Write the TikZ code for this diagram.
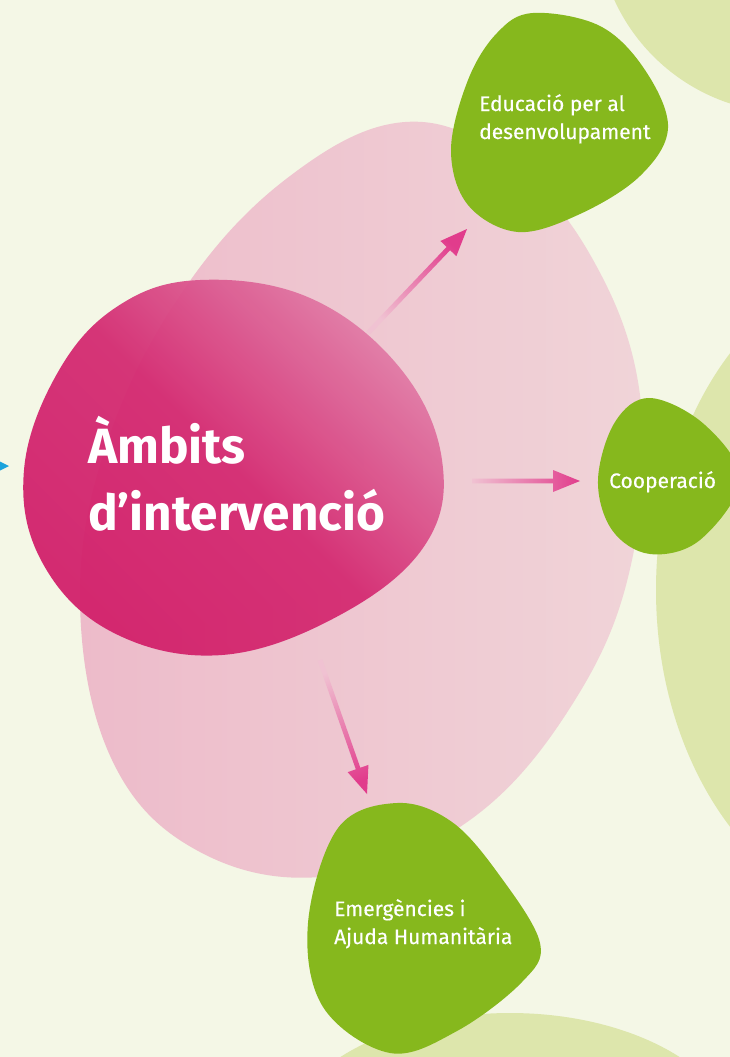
\documentclass[tikz,border=0pt]{standalone}
\usepackage{fontspec}
\setmainfont{Fira Sans}
\newfontfamily\labelfont{Fira Sans}[FakeBold=0.35]
\usetikzlibrary{calc}
\definecolor{bg}{HTML}{F4F7E6}
\definecolor{lightgreen}{HTML}{DDE6AC}
\definecolor{leaf}{HTML}{86B81D}
\definecolor{pinkL}{HTML}{EDBBCA}
\definecolor{pinkR}{HTML}{F0D4D8}
\definecolor{magDark}{HTML}{D2216B}
\definecolor{magMid}{HTML}{D42B72}
\definecolor{magLight}{HTML}{E27EA8}
\definecolor{arrowdark}{HTML}{E13C8C}
\definecolor{arrowlight}{HTML}{F0C2D2}
\definecolor{cyanarrow}{HTML}{1BA3DC}
\tikzset{
  greenblob/.style={fill=leaf},
  softgreen/.style={fill=lightgreen},
  greenlabel/.style={anchor=base west, inner sep=0pt, text=white, font=\labelfont\fontsize{21}{25}\selectfont},
  titlelabel/.style={anchor=base west, inner sep=0pt, text=white, font=\fontsize{49.5}{58}\selectfont\bfseries},
}
\newcommand{\gradarrow}[3]{%
  \coordinate (#1h) at ($(#2)!27pt!(#1)$);
  \path[top color=arrowlight, bottom color=arrowdark, shading angle=#3]
    ($(#1)!2.4pt!90:(#2)$) -- ($(#1h)!2.4pt!90:(#2)$) -- ($(#1h)!11pt!90:(#2)$) -- (#2)
    -- ($(#1h)!11pt!-90:(#2)$) -- ($(#1h)!2.4pt!-90:(#2)$) -- ($(#1)!2.4pt!-90:(#2)$) -- cycle;
}
\begin{document}
\begin{tikzpicture}[x=1pt,y=-1pt]
\useasboundingbox (0,0) rectangle (730,1057);
\fill[bg] (0,0) rectangle (730,1057);
\begin{scope}
  \clip (0,0) rectangle (730,1057);
  % soft background blobs
  \fill[softgreen] (790,-80) circle[radius=193pt];
  \fill[softgreen] (900,590) ellipse[x radius=244pt, y radius=330pt];
  \fill[softgreen] (510,1150) ellipse[x radius=231pt, y radius=137pt];
  % large pale pink blob
  \path[left color=pinkL, right color=pinkR]
    plot[smooth cycle, tension=0.65] coordinates {
      (405,122) (508,160) (592,258) (640,395) (632,560) (575,700) (470,820)
      (330,876) (200,852) (112,760) (80,600) (108,440) (185,288) (290,176)};
  % magenta blob
  \path[top color=magLight, bottom color=magDark, middle color=magMid, shading angle=-45, fill opacity=0.95]
    plot[smooth cycle, tension=0.65] coordinates {
      (200,280) (310,298) (400,368) (442,460) (425,545) (340,615) (222,655)
      (112,632) (42,562) (24,470) (58,372) (118,306)};
  % green blobs
  \fill[greenblob] plot[smooth cycle, tension=0.6] coordinates {
      (533,13) (600,26) (645,70) (668,128) (640,176) (580,214) (518,232)
      (468,205) (451,150) (468,80) (497,33)};
  \fill[greenblob] plot[smooth cycle, tension=0.6] coordinates {
      (650,398) (705,425) (740,480) (700,540) (650,554) (612,530) (598,480) (615,422)};
  \fill[greenblob] plot[smooth cycle, tension=0.6] coordinates {
      (397,803) (452,822) (500,876) (540,943) (522,982) (457,1031) (390,1053)
      (323,1007) (308,923) (338,828)};
\end{scope}
% connectors
\coordinate (a1s) at (368,333);
\coordinate (a1e) at (467,229);
\coordinate (a2s) at (472,481);
\coordinate (a2e) at (580,481);
\coordinate (a3s) at (320,660);
\coordinate (a3e) at (367,794);
\gradarrow{a1s}{a1e}{137.6}
\gradarrow{a2s}{a2e}{90}
\gradarrow{a3s}{a3e}{19.2}
% incoming arrow head at left edge
\coordinate (cyantip) at (9,466);
\fill[cyanarrow] (-3,460) -- (cyantip) -- (-3,472) -- cycle;
% texts
\node[titlelabel] (title1) at (88,463) {Àmbits};
\node[titlelabel] (title2) at (88,530) {d’intervenció};
\node[greenlabel] (edu1) at (479,111) {Educació per al};
\node[greenlabel] (edu2) at (479,139) {desenvolupament};
\node[greenlabel] (coop) at (609,488) {Cooperació};
\node[greenlabel] (emer1) at (334,916) {Emergències i};
\node[greenlabel] (emer2) at (334,944) {Ajuda Humanitària};
\end{tikzpicture}
\end{document}
